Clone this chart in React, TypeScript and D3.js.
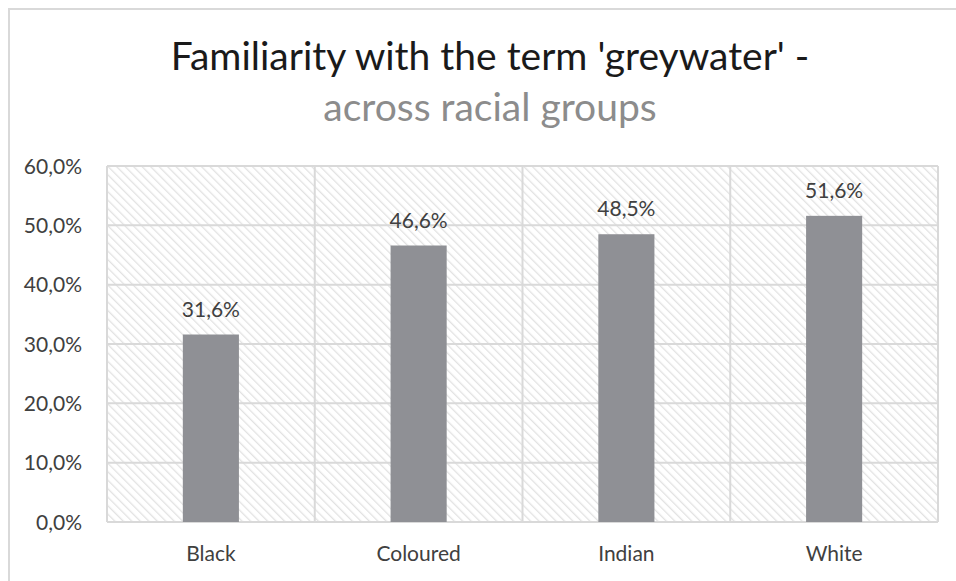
import React from "react";
import * as d3 from "d3";

const categories = ["Black", "Coloured", "Indian", "White"];
const values = [31.6, 46.6, 48.5, 51.6];
const yTicks = [0, 10, 20, 30, 40, 50, 60];

const W = 956;
const H = 581;
const margin = { left: 107, right: 18, top: 166, bottom: 59 };
const FONT = "Lato, 'Open Sans', sans-serif";

const fmt = (v: number) => v.toFixed(1).replace(".", ",") + "%";

export default function App() {
  const x = d3
    .scaleBand<string>()
    .domain(categories)
    .range([margin.left, W - margin.right])
    .paddingInner(0)
    .paddingOuter(0);
  const y = d3
    .scaleLinear()
    .domain([0, 60])
    .range([H - margin.bottom, margin.top]);
  const barW = x.bandwidth() * 0.27;
  const plotL = margin.left;
  const plotR = W - margin.right;
  const plotT = margin.top;
  const plotB = H - margin.bottom;

  return (
    <svg
      width={W}
      height={H}
      style={{ position: "absolute", left: 0, top: 0, background: "#fff" }}
    >
      <defs>
        <pattern
          id="hatch"
          width="6"
          height="6"
          patternUnits="userSpaceOnUse"
          patternTransform="rotate(-45)"
        >
          <rect width="6" height="6" fill="#ffffff" />
          <line x1="0" y1="0" x2="0" y2="6" stroke="#e2e2e2" strokeWidth="2.6" />
        </pattern>
      </defs>

      {/* outer chart frame */}
      <path
        d={`M9,${H} V9 H${W}`}
        fill="none"
        stroke="#d9d9d9"
        strokeWidth={2}
      />

      <text
        x={490}
        y={70}
        textAnchor="middle"
        fontFamily={FONT}
        fontSize={39}
        fill="#1a1a1a"
      >
        Familiarity with the term 'greywater' -
      </text>
      <text
        x={490}
        y={121}
        textAnchor="middle"
        fontFamily={FONT}
        fontSize={39}
        fill="#8c8c8c"
      >
        across racial groups
      </text>

      {/* plot background */}
      <rect
        x={plotL}
        y={plotT}
        width={plotR - plotL}
        height={plotB - plotT}
        fill="url(#hatch)"
      />

      {/* horizontal gridlines */}
      {yTicks.map((t) => (
        <line
          key={"h" + t}
          x1={plotL}
          x2={plotR}
          y1={y(t)}
          y2={y(t)}
          stroke="#d9d9d9"
          strokeWidth={2}
        />
      ))}
      {/* vertical gridlines at category boundaries */}
      {categories.map((c) => (
        <line
          key={"v" + c}
          x1={x(c)!}
          x2={x(c)!}
          y1={plotT}
          y2={plotB}
          stroke="#d9d9d9"
          strokeWidth={2}
        />
      ))}
      <line x1={plotR} x2={plotR} y1={plotT} y2={plotB} stroke="#d9d9d9" strokeWidth={2} />

      {/* y tick labels */}
      {yTicks.map((t) => (
        <text
          key={"yl" + t}
          x={82}
          y={y(t)}
          dy="0.36em"
          textAnchor="end"
          fontFamily={FONT}
          fontSize={21}
          fill="#404040"
        >
          {fmt(t)}
        </text>
      ))}

      {/* bars */}
      {categories.map((c, i) => {
        const cx = x(c)! + x.bandwidth() / 2;
        return (
          <g key={"b" + c}>
            <rect
              x={cx - barW / 2}
              y={y(values[i])}
              width={barW}
              height={y(0) - y(values[i])}
              fill="#8f9095"
            />
            <text
              x={cx}
              y={y(values[i]) - 18}
              textAnchor="middle"
              fontFamily={FONT}
              fontSize={21}
              fill="#404040"
            >
              {fmt(values[i])}
            </text>
            <text
              x={cx}
              y={561}
              textAnchor="middle"
              fontFamily={FONT}
              fontSize={21}
              fill="#404040"
            >
              {c}
            </text>
          </g>
        );
      })}
    </svg>
  );
}
